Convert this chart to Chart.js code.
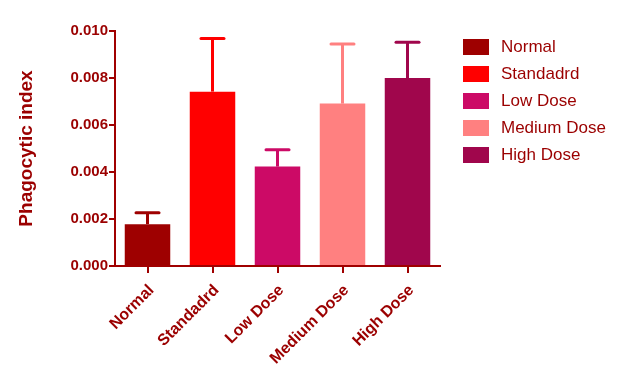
<!DOCTYPE html>
<html><head><meta charset="utf-8">
<script src="https://cdn.jsdelivr.net/npm/chart.js@4/dist/chart.umd.min.js"></script>
<style>html,body{margin:0;padding:0;background:#fff;}</style>
</head><body>
<canvas id="c" width="625" height="386" style="display:block;width:625px;height:386px"></canvas>
<script>
const categories = ['Normal', 'Standadrd', 'Low Dose', 'Medium Dose', 'High Dose'];
const means = [0.00178, 0.00742, 0.00423, 0.00691, 0.00800];
const errors = [0.00049, 0.00226, 0.00072, 0.00254, 0.00152];
const yTicks = [0, 0.002, 0.004, 0.006, 0.008, 0.010];
const colors = ['#9e0000', '#ff0000', '#cc0a66', '#ff8080', '#a0064c'];
const ink = '#9b0000';
const axisColor = '#a00000';
const FONT = "'Liberation Sans', Arial, sans-serif";

const errorBars = {
  id: 'errorBars',
  afterDatasetsDraw(chart) {
    const ctx = chart.ctx;
    const meta = chart.getDatasetMeta(0);
    const ys = chart.scales.y;
    ctx.save();
    meta.data.forEach((el, i) => {
      const yTop = ys.getPixelForValue(means[i] + errors[i]);
      ctx.strokeStyle = colors[i];
      ctx.lineWidth = 3;
      ctx.lineCap = 'butt';
      ctx.beginPath();
      ctx.moveTo(el.x, el.y);
      ctx.lineTo(el.x, yTop);
      ctx.stroke();
      ctx.lineCap = 'round';
      ctx.beginPath();
      ctx.moveTo(el.x - 11.5, yTop);
      ctx.lineTo(el.x + 11.5, yTop);
      ctx.stroke();
    });
    ctx.restore();
  }
};

const sideLegend = {
  id: 'sideLegend',
  afterDraw(chart) {
    const ctx = chart.ctx;
    const x0 = chart.chartArea.right + 23;
    ctx.save();
    ctx.font = '17px ' + FONT;
    ctx.textBaseline = 'middle';
    ctx.textAlign = 'left';
    categories.forEach((name, i) => {
      const cy = 47 + 27 * i;
      ctx.fillStyle = colors[i];
      ctx.fillRect(x0, cy - 8, 26, 16);
      ctx.fillStyle = ink;
      ctx.fillText(name, x0 + 38, cy + 0.5);
    });
    ctx.restore();
  }
};

new Chart(document.getElementById('c'), {
  type: 'bar',
  data: {
    labels: categories,
    datasets: [{
      data: means,
      backgroundColor: colors,
      borderWidth: 0,
      barPercentage: 0.7,
      categoryPercentage: 1.0
    }]
  },
  options: {
    responsive: false,
    animation: false,
    devicePixelRatio: 1,
    layout: { padding: { top: 31, right: 185, left: 0, bottom: 0 } },
    plugins: { legend: { display: false }, tooltip: { enabled: false } },
    scales: {
      x: {
        offset: true,
        grid: { offset: false, drawOnChartArea: false, drawTicks: true, tickLength: 7, color: axisColor, lineWidth: 2 },
        border: { color: axisColor, width: 2 },
        ticks: { color: ink, font: { family: FONT, size: 16, weight: 'bold' }, minRotation: 45, maxRotation: 45, padding: 8, labelOffset: 4 },
        afterFit(s) { s.height = 120; }
      },
      y: {
        min: 0, max: 0.010,
        afterBuildTicks(s) { s.ticks = yTicks.map(v => ({ value: v })); },
        grid: { drawOnChartArea: false, drawTicks: true, tickLength: 6, color: axisColor, lineWidth: 2 },
        border: { color: axisColor, width: 2 },
        ticks: { color: ink, font: { family: FONT, size: 15, weight: 'bold' }, padding: 1,
                 callback: v => Number(v).toFixed(3) },
        title: { display: true, text: 'Phagocytic index', color: ink,
                 font: { family: FONT, size: 19, weight: 'bold' }, padding: { top: 15, bottom: 0 } },
        afterFit(s) { s.width = 115; }
      }
    }
  },
  plugins: [errorBars, sideLegend]
});
</script>
</body></html>
